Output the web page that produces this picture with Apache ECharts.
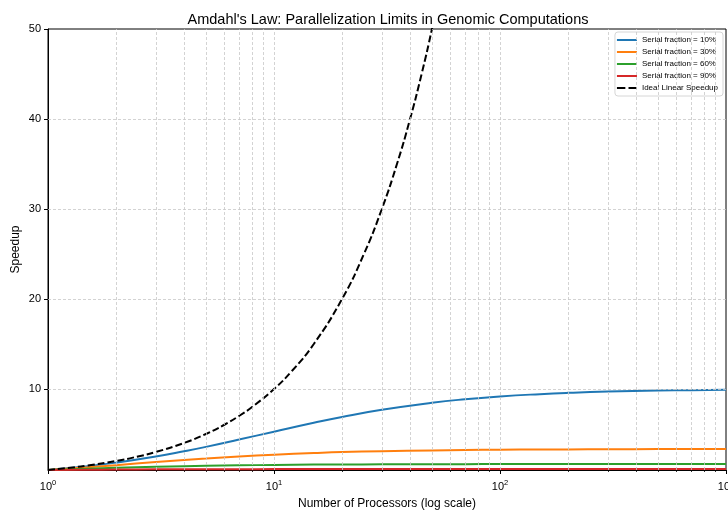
<!DOCTYPE html>
<html>
<head>
<meta charset="utf-8">
<script src="https://cdn.jsdelivr.net/npm/echarts@6/dist/echarts.min.js"></script>
<style>
  html, body { margin: 0; padding: 0; background: #fff; }
  #chart { width: 728px; height: 512px; }
</style>
</head>
<body>
<div id="chart"></div>
<script>
// processors count (x) and speedup values
const processors = [1, 1.5, 2, 3, 4, 5, 7, 10, 15, 20, 30, 50, 70, 100, 150, 200, 300, 500, 700, 1000];
const serial10 = [1.00, 1.43, 1.82, 2.50, 3.08, 3.57, 4.38, 5.26, 6.25, 6.90, 7.69, 8.47, 8.86, 9.17, 9.43, 9.57, 9.71, 9.82, 9.87, 9.91];
const serial30 = [1.00, 1.30, 1.54, 1.88, 2.11, 2.27, 2.50, 2.70, 2.88, 2.99, 3.09, 3.18, 3.23, 3.26, 3.28, 3.29, 3.31, 3.32, 3.32, 3.33];
const serial60 = [1.00, 1.15, 1.25, 1.36, 1.43, 1.47, 1.52, 1.56, 1.60, 1.61, 1.63, 1.64, 1.65, 1.66, 1.66, 1.66, 1.66, 1.67, 1.67, 1.67];
const serial90 = [1.00, 1.03, 1.05, 1.07, 1.08, 1.09, 1.09, 1.10, 1.10, 1.10, 1.11, 1.11, 1.11, 1.11, 1.11, 1.11, 1.11, 1.11, 1.11, 1.11];

const idealX = [1, 1.25, 1.5, 2, 2.5, 3, 4, 5, 6, 7, 8, 10, 12, 15, 20, 25, 30, 35, 40, 45, 50, 55, 60];
const idealY = [1, 1.25, 1.5, 2, 2.5, 3, 4, 5, 6, 7, 8, 10, 12, 15, 20, 25, 30, 35, 40, 45, 50, 55, 60];

const seriesNames = ['Serial fraction = 10%', 'Serial fraction = 30%', 'Serial fraction = 60%', 'Serial fraction = 90%'];
const seriesColors = ['#1f77b4', '#ff7f0e', '#2ca02c', '#d62728'];
const yTicks = [10, 20, 30, 40, 50];

const font = 'Liberation Sans, Arial, sans-serif';
const solidIcon = 'path://M0 0H20V2H0Z';
const dashIcon = 'path://M0 0H8V2H0Z M11 0H19V2H11Z';

// minor log ticks / gridlines at 2..9 of each decade
let minorTicks = [];
[1, 10, 100].forEach(function (d) {
  for (let k = 2; k <= 9; k++) minorTicks.push(k * d);
});
let gridLines = minorTicks.map(function (v) { return { xAxis: v }; });
gridLines.push({ xAxis: 10 }, { xAxis: 100 });
[10, 20, 30, 40].forEach(function (v) { gridLines.push({ yAxis: v }); });

function pairs(xs, ys) {
  return xs.map(function (x, i) { return [x, ys[i]]; });
}

let myChart = echarts.init(document.getElementById('chart'));

let series = [{
  name: 'grid',
  type: 'line',
  data: [[1, 1]],
  showSymbol: false,
  lineStyle: { opacity: 0 },
  silent: true,
  z: 1,
  markLine: {
    silent: true,
    symbol: 'none',
    animation: false,
    label: { show: false },
    lineStyle: { color: '#c8c8c8', width: 0.8, type: [3, 2] },
    data: gridLines
  }
}];

const amdahl = [serial10, serial30, serial60, serial90];
amdahl.forEach(function (vals, i) {
  series.push({
    name: seriesNames[i],
    type: 'line',
    data: pairs(processors, vals),
    smooth: true,
    showSymbol: false,
    symbol: 'none',
    animation: false,
    z: 3,
    lineStyle: { color: seriesColors[i], width: 2 },
    itemStyle: { color: seriesColors[i] }
  });
});

series.push({
  name: 'Ideal Linear Speedup',
  type: 'line',
  data: pairs(idealX, idealY),
  smooth: true,
  showSymbol: false,
  symbol: 'none',
  animation: false,
  z: 4,
  lineStyle: { color: '#000', width: 2, type: [7, 3] },
  itemStyle: { color: '#000' }
});

let legendData = seriesNames.map(function (n) { return { name: n, icon: solidIcon }; });
legendData.push({ name: 'Ideal Linear Speedup', icon: dashIcon });

const option = {
  backgroundColor: '#fff',
  animation: false,
  textStyle: { fontFamily: font },
  title: {
    text: "Amdahl's Law: Parallelization Limits in Genomic Computations",
    left: 383,
    textAlign: 'center',
    top: 7,
    textStyle: { fontSize: 14.5, fontWeight: 'normal', color: '#000', fontFamily: font }
  },
  legend: {
    data: legendData,
    orient: 'vertical',
    right: 5,
    top: 32,
    align: 'left',
    itemWidth: 20,
    itemHeight: 2,
    itemGap: 2,
    symbolKeepAspect: false,
    padding: [3, 5, 3, 2],
    borderColor: '#d6d6d6',
    borderWidth: 1,
    borderRadius: 3,
    backgroundColor: 'rgba(255,255,255,0.8)',
    textStyle: { fontSize: 8, lineHeight: 10, color: '#000', fontFamily: font }
  },
  grid: {
    left: 48,
    right: 2,
    top: 29,
    bottom: 42,
    outerBoundsMode: 'none',
    containLabel: false,
    show: true,
    borderColor: '#000',
    borderWidth: 1
  },
  xAxis: [{
    type: 'log',
    logBase: 10,
    min: 1,
    max: 1000,
    name: 'Number of Processors (log scale)',
    nameLocation: 'middle',
    nameGap: 28,
    nameMoveOverlap: false,
    nameTextStyle: { fontSize: 12, color: '#000', fontFamily: font },
    axisLine: { lineStyle: { color: '#000', width: 1 } },
    axisTick: { show: true, length: 4, lineStyle: { color: '#000' } },
    splitLine: { show: false },
    axisLabel: {
      color: '#000',
      margin: 9,
      hideOverlap: false,
      formatter: function (v) {
        return '{b|10}{s|' + Math.round(Math.log10(v)) + '}';
      },
      rich: {
        b: { fontSize: 11, color: '#000', fontFamily: font },
        s: { fontSize: 7.5, color: '#000', fontFamily: font, padding: [0, 0, 7, 0] }
      }
    }
  }, {
    // minor log ticks only
    type: 'log',
    logBase: 10,
    min: 1,
    max: 1000,
    position: 'bottom',
    axisLine: { show: false },
    axisLabel: { show: false },
    splitLine: { show: false },
    axisTick: { show: true, length: 2, lineStyle: { color: '#000', width: 0.8 }, customValues: minorTicks }
  }],
  yAxis: {
    type: 'value',
    min: 1,
    max: 50,
    name: 'Speedup',
    nameLocation: 'middle',
    nameGap: 26,
    nameMoveOverlap: false,
    nameTextStyle: { fontSize: 12, color: '#000', fontFamily: font },
    axisLine: { show: true, lineStyle: { color: '#000', width: 1 } },
    axisTick: { show: true, length: 4, lineStyle: { color: '#000' }, customValues: yTicks },
    splitLine: { show: false },
    axisLabel: { color: '#000', fontSize: 11, margin: 7, customValues: yTicks }
  },
  series: series
};

myChart.setOption(option);
</script>
</body>
</html>
